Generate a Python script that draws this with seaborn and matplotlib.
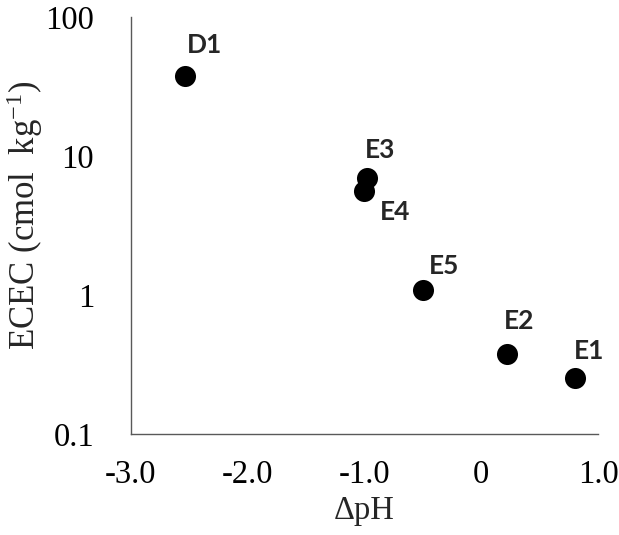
import numpy as np
import pandas as pd
import matplotlib
matplotlib.use("Agg")
import matplotlib.pyplot as plt
import seaborn as sns

# Data
samples = ["D1", "E3", "E4", "E5", "E2", "E1"]
delta_ph = [-2.54, -0.98, -1.00, -0.50, 0.22, 0.80]
ecec = [38.0, 7.0, 5.6, 1.09, 0.375, 0.255]

x_ticks = [-3.0, -2.0, -1.0, 0.0, 1.0]
x_tick_labels = ["-3.0", "-2.0", "-1.0", "0", "1.0"]
y_ticks = [0.1, 1, 10, 100]
y_tick_labels = ["0.1", "1", "10", "100"]

# label offsets (points) relative to each marker
label_offsets = {
    "D1": (14, 16.5),
    "E3": (9.5, 14.5),
    "E4": (22, -21),
    "E5": (15, 11.5),
    "E2": (8.5, 18),
    "E1": (10.5, 13),
}

df = pd.DataFrame({"sample": samples, "dph": delta_ph, "ecec": ecec})

sns.set_style("white")
plt.rcParams["font.family"] = ["Liberation Serif", "DejaVu Serif"]
plt.rcParams["mathtext.fontset"] = "custom"
plt.rcParams["mathtext.rm"] = "Liberation Serif"
plt.rcParams["mathtext.it"] = "Liberation Serif:italic"

fig = plt.figure(figsize=(6.19, 5.35), dpi=100)
ax = fig.add_axes([0.2116, 0.1888, 0.7545, 0.7785])

sns.scatterplot(data=df, x="dph", y="ecec", ax=ax, color="black", s=230,
                edgecolor="black", linewidth=0, legend=False, zorder=3, clip_on=False)

ax.set_yscale("log")
ax.set_xlim(-3.0, 1.0)
ax.set_ylim(0.1, 100)
ax.set_xticks(x_ticks)
ax.set_xticklabels(x_tick_labels)
ax.set_yticks(y_ticks)
ax.set_yticklabels(y_tick_labels)
ax.minorticks_off()

spine_col = "#595959"
for side in ["top", "right"]:
    ax.spines[side].set_visible(False)
for side in ["left", "bottom"]:
    ax.spines[side].set_color(spine_col)
    ax.spines[side].set_linewidth(1.0)
ax.tick_params(axis="both", direction="out", length=6.5, width=1.0, color=spine_col,
               labelsize=23.5, labelcolor="black")
ax.tick_params(axis="y", pad=20)
ax.tick_params(axis="x", pad=12)

for _, row in df.iterrows():
    dx, dy = label_offsets[row["sample"]]
    ax.annotate(row["sample"], (row["dph"], row["ecec"]), xytext=(dx, dy),
                textcoords="offset points", ha="center", va="baseline",
                fontsize=19, fontweight="bold", family=["Lato", "DejaVu Sans"])

ax.set_xlabel("ΔpH", fontsize=23.5)
ax.set_ylabel("ECEC (cmol  kg$^{\\mathregular{-1}}$)", fontsize=25)
ax.xaxis.set_label_coords(0.5, -0.148)
ax.yaxis.set_label_coords(-0.185, 0.526)

fig.savefig("out.png", dpi=100)
